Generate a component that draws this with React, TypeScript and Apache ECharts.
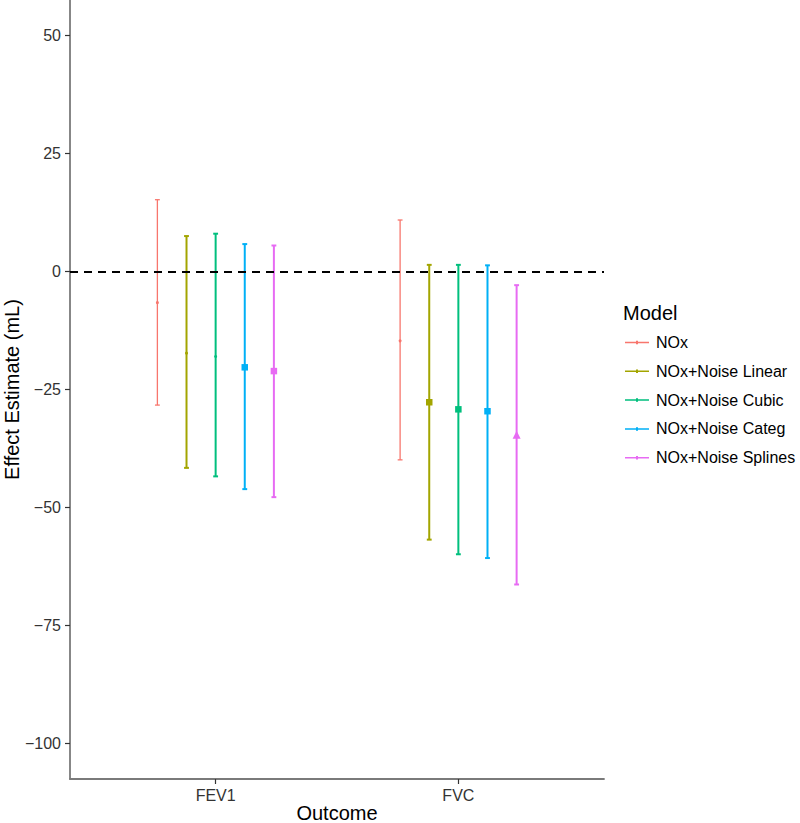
import React, { useEffect, useRef } from "react";
import * as echarts from "echarts";

const outcomes = ["FEV1", "FVC"];
const models = [
  "NOx",
  "NOx+Noise Linear",
  "NOx+Noise Cubic",
  "NOx+Noise Categ",
  "NOx+Noise Splines",
];
// per model: [FEV1, FVC]
const estimates = [
  [-6.6, -14.7],
  [-17.3, -27.7],
  [-18.0, -29.2],
  [-20.3, -29.6],
  [-21.1, -34.6],
];
const lowerCI = [
  [-28.3, -39.9],
  [-41.6, -56.8],
  [-43.4, -59.9],
  [-46.1, -60.7],
  [-47.8, -66.3],
];
const upperCI = [
  [15.2, 10.9],
  [7.5, 1.4],
  [8.0, 1.4],
  [5.8, 1.3],
  [5.5, -2.9],
];
const pointShapes = [
  ["dot", "dot"],
  ["dot", "square"],
  ["dot", "square"],
  ["square", "square"],
  ["square", "triangle"],
];
const yTicks = [-100, -75, -50, -25, 0, 25, 50];
const xTitle = "Outcome";
const yTitle = "Effect Estimate (mL)";
const legendTitle = "Model";

const colors = ["#F8766D", "#A3A500", "#00BF7D", "#00B0F6", "#E76BF3"];
const lineWidths = [1.3, 2, 2, 2, 2];
const dodgeWidth = 0.6;
const capWidth = 0.02;
const FONT = "'Liberation Sans', Arial, Helvetica, sans-serif";

function xPos(outcomeIdx: number, modelIdx: number) {
  const step = dodgeWidth / models.length;
  return outcomeIdx + 1 + (modelIdx - (models.length - 1) / 2) * step;
}

const shapeSymbol: Record<string, [string, number]> = {
  dot: ["circle", 3],
  square: ["rect", 6.5],
  triangle: ["triangle", 8],
};

export default function App() {
  const ref = useRef<HTMLDivElement>(null);
  useEffect(() => {
    if (!ref.current) return;
    const chart = echarts.init(ref.current, undefined, { renderer: "svg" });

    const series: any[] = [];
    models.forEach((m, mi) => {
      const color = colors[mi];
      const lw = lineWidths[mi];
      series.push({
        type: "custom",
        name: m + " CI",
        silent: true,
        encode: { x: 0, y: [1, 2] },
        data: outcomes.map((_, oi) => [xPos(oi, mi), lowerCI[mi][oi], upperCI[mi][oi]]),
        renderItem: (params: any, api: any) => {
          const x = api.value(0);
          const lo = api.value(1);
          const hi = api.value(2);
          const pLo = api.coord([x, lo]);
          const pHi = api.coord([x, hi]);
          const half = api.coord([x + capWidth / 2, lo])[0] - pLo[0];
          const style = { stroke: color, lineWidth: lw, fill: "none" };
          return {
            type: "group",
            children: [
              { type: "line", shape: { x1: pLo[0], y1: pLo[1], x2: pHi[0], y2: pHi[1] }, style },
              { type: "line", shape: { x1: pLo[0] - half, y1: pLo[1], x2: pLo[0] + half, y2: pLo[1] }, style },
              { type: "line", shape: { x1: pHi[0] - half, y1: pHi[1], x2: pHi[0] + half, y2: pHi[1] }, style },
            ],
          };
        },
        z: 2,
      });
      series.push({
        type: "scatter",
        name: m,
        itemStyle: { color, opacity: 1 },
        data: outcomes.map((_, oi) => {
          const [sym, size] = shapeSymbol[pointShapes[mi][oi]];
          return { value: [xPos(oi, mi), estimates[mi][oi]], symbol: sym, symbolSize: size };
        }),
        z: 3,
      });
    });
    series.push({
      type: "line",
      name: "zero",
      data: [],
      markLine: {
        silent: true,
        symbol: "none",
        label: { show: false },
        lineStyle: { color: "#000", width: 2, type: [8, 6] },
        data: [{ yAxis: 0 }],
      },
      z: 4,
    });

    chart.setOption({
      animation: false,
      textStyle: { fontFamily: FONT },
      title: {
        text: legendTitle,
        left: 623,
        top: 303,
        padding: 0,
        textStyle: { fontSize: 20, fontWeight: "normal", color: "#000", fontFamily: FONT },
      },
      graphic: [
        {
          type: "text",
          x: 12,
          y: 389.5,
          rotation: Math.PI / 2,
          style: {
            text: yTitle,
            fontSize: 20,
            fontFamily: FONT,
            fill: "#000",
            align: "center",
            verticalAlign: "middle",
          },
        },
        {
          type: "text",
          x: 337,
          y: 813,
          style: {
            text: xTitle,
            fontSize: 20,
            fontFamily: FONT,
            fill: "#000",
            align: "center",
            verticalAlign: "middle",
          },
        },
      ],
      legend: {
        orient: "vertical",
        left: 625,
        top: 334.5,
        padding: 0,
        itemWidth: 24,
        itemHeight: 3.5,
        itemGap: 12.8,
        icon: "path://M0,6 L24,6 L24,7.5 L0,7.5 Z M11,5 L13,5 L13,8.5 L11,8.5 Z",
        data: models,
        textStyle: { fontSize: 16, color: "#000", lineHeight: 16, padding: [0, 0, 0, 2], fontFamily: FONT },
      },
      grid: { left: 70, right: 196, top: 0, bottom: 44, containLabel: false, outerBoundsMode: "none" },
      xAxis: {
        type: "value",
        min: 0.4,
        max: 2.6,
        splitLine: { show: false },
        axisLine: { show: true, onZero: false, lineStyle: { color: "#7a7a7a", width: 1.8 } },
        axisTick: { show: true, length: 5, customValues: [1, 2], lineStyle: { color: "#333", width: 1.2 } },
        axisLabel: {
          customValues: [1, 2],
          margin: 8,
          fontSize: 16,
          color: "#333",
          fontFamily: FONT,
          formatter: (v: number) => outcomes[Math.round(v) - 1] ?? "",
        },
      },
      yAxis: {
        type: "value",
        min: -107.5,
        max: 57.5,
        splitLine: { show: false },
        axisLine: { show: true, onZero: false, lineStyle: { color: "#7a7a7a", width: 1.8 } },
        axisTick: { show: true, length: 5, customValues: yTicks, lineStyle: { color: "#333", width: 1.2 } },
        axisLabel: {
          customValues: yTicks,
          margin: 9,
          fontSize: 16,
          color: "#333",
          fontFamily: FONT,
          formatter: (v: number) => String(v).replace("-", "\u2212"),
        },
      },
      series,
    });
    return () => chart.dispose();
  }, []);

  return (
    <div
      ref={ref}
      style={{ position: "fixed", left: 0, top: 0, width: 800, height: 823, background: "#fff" }}
    />
  );
}
